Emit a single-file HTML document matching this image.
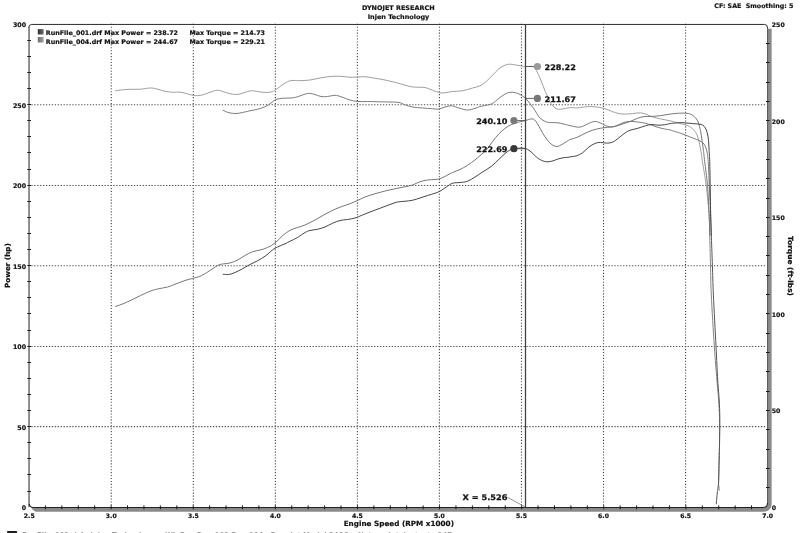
<!DOCTYPE html>
<html lang="en"><head><meta charset="utf-8"><title>Dynojet Research - Injen Technology</title>
<style>
html,body{margin:0;padding:0;background:#fff;}
body{width:800px;height:533px;overflow:hidden;}
svg{display:block;will-change:transform;}
text{font-family:"DejaVu Sans","Liberation Sans",sans-serif;font-weight:bold;fill:#111;}
.lb{stroke:#111;stroke-width:0.25;}
.sm{stroke:#111;stroke-width:0.18;}
.grid line{stroke:#444;stroke-width:1.1;stroke-dasharray:1.1 1.83;}
.grid line.h{stroke:#505050;stroke-width:1.05;stroke-dasharray:1.3 1.63;}
.tick line{stroke:#1a1a1a;stroke-width:1;}
.crv path{fill:none;stroke-linejoin:round;stroke-linecap:round;}
</style></head><body>
<svg width="800" height="533" viewBox="0 0 800 533">
<defs>
<linearGradient id="sw1" x1="0" x2="1" y1="0" y2="0"><stop offset="0" stop-color="#2e2e2e"/><stop offset="1" stop-color="#6e6e6e"/></linearGradient>
<linearGradient id="sw2" x1="0" x2="1" y1="0" y2="0"><stop offset="0" stop-color="#6a6a6a"/><stop offset="1" stop-color="#a4a4a4"/></linearGradient>
<clipPath id="plot"><rect x="30" y="24" width="738" height="483.5"/></clipPath>
</defs>
<rect width="800" height="533" fill="#fff"/>
<g class="grid">
<line x1="111.27" y1="23.8" x2="111.27" y2="506.8"/>
<line x1="193.31" y1="23.8" x2="193.31" y2="506.8"/>
<line x1="275.35" y1="23.8" x2="275.35" y2="506.8"/>
<line x1="357.39" y1="23.8" x2="357.39" y2="506.8"/>
<line x1="439.44" y1="23.8" x2="439.44" y2="506.8"/>
<line x1="521.48" y1="23.8" x2="521.48" y2="506.8"/>
<line x1="603.52" y1="23.8" x2="603.52" y2="506.8"/>
<line x1="685.56" y1="23.8" x2="685.56" y2="506.8"/>
<line class="h" x1="31.3" y1="426.60" x2="766.2" y2="426.60"/>
<line class="h" x1="31.3" y1="346.40" x2="766.2" y2="346.40"/>
<line class="h" x1="31.3" y1="265.70" x2="766.2" y2="265.70"/>
<line class="h" x1="31.3" y1="185.40" x2="766.2" y2="185.40"/>
<line class="h" x1="31.3" y1="104.70" x2="766.2" y2="104.70"/>
</g>
<path d="M29.05 507 L29.05 27" fill="none" stroke="#8a8a8a" stroke-width="1.9"/>
<path d="M31.5 509.85 L763 509.85 Q769.8 509.85 769.8 503 L769.8 28.8" fill="none" stroke="#8a8a8a" stroke-width="3.7"/>
<path d="M30.2 507.6 L35.6 511.9 L31 511.9 Z" fill="#fff"/>
<path d="M767.55 27.6 L767.55 503" fill="none" stroke="#555" stroke-width="1.0"/>
<path d="M28.7 27.6 Q28.8 24.45 31.8 24.45 L764.6 24.45 Q767.55 24.45 767.55 28" fill="none" stroke="#2e2e2e" stroke-width="1.0"/>
<path d="M767.55 503 Q767.55 507.5 763 507.5 L33.5 507.5 Q29.6 507.5 29.2 504" fill="none" stroke="#222" stroke-width="1.15"/>
<g class="tick">
<line x1="27.3" y1="491.50" x2="31" y2="491.50"/>
<line x1="27.3" y1="474.50" x2="31" y2="474.50"/>
<line x1="27.3" y1="458.50" x2="31" y2="458.50"/>
<line x1="27.3" y1="442.50" x2="31" y2="442.50"/>
<line x1="27.3" y1="426.50" x2="31" y2="426.50"/>
<line x1="27.3" y1="410.50" x2="31" y2="410.50"/>
<line x1="27.3" y1="394.50" x2="31" y2="394.50"/>
<line x1="27.3" y1="378.50" x2="31" y2="378.50"/>
<line x1="27.3" y1="362.50" x2="31" y2="362.50"/>
<line x1="27.3" y1="346.50" x2="31" y2="346.50"/>
<line x1="27.3" y1="330.50" x2="31" y2="330.50"/>
<line x1="27.3" y1="313.50" x2="31" y2="313.50"/>
<line x1="27.3" y1="297.50" x2="31" y2="297.50"/>
<line x1="27.3" y1="281.50" x2="31" y2="281.50"/>
<line x1="27.3" y1="265.50" x2="31" y2="265.50"/>
<line x1="27.3" y1="249.50" x2="31" y2="249.50"/>
<line x1="27.3" y1="233.50" x2="31" y2="233.50"/>
<line x1="27.3" y1="217.50" x2="31" y2="217.50"/>
<line x1="27.3" y1="201.50" x2="31" y2="201.50"/>
<line x1="27.3" y1="185.50" x2="31" y2="185.50"/>
<line x1="27.3" y1="169.50" x2="31" y2="169.50"/>
<line x1="27.3" y1="152.50" x2="31" y2="152.50"/>
<line x1="27.3" y1="136.50" x2="31" y2="136.50"/>
<line x1="27.3" y1="120.50" x2="31" y2="120.50"/>
<line x1="27.3" y1="104.50" x2="31" y2="104.50"/>
<line x1="27.3" y1="88.50" x2="31" y2="88.50"/>
<line x1="27.3" y1="72.50" x2="31" y2="72.50"/>
<line x1="27.3" y1="56.50" x2="31" y2="56.50"/>
<line x1="27.3" y1="40.50" x2="31" y2="40.50"/>
<line x1="766" y1="487.50" x2="769.6" y2="487.50"/>
<line x1="766" y1="468.50" x2="769.6" y2="468.50"/>
<line x1="766" y1="449.50" x2="769.6" y2="449.50"/>
<line x1="766" y1="429.50" x2="769.6" y2="429.50"/>
<line x1="766" y1="410.50" x2="769.6" y2="410.50"/>
<line x1="766" y1="391.50" x2="769.6" y2="391.50"/>
<line x1="766" y1="371.50" x2="769.6" y2="371.50"/>
<line x1="766" y1="352.50" x2="769.6" y2="352.50"/>
<line x1="766" y1="333.50" x2="769.6" y2="333.50"/>
<line x1="766" y1="313.50" x2="769.6" y2="313.50"/>
<line x1="766" y1="294.50" x2="769.6" y2="294.50"/>
<line x1="766" y1="275.50" x2="769.6" y2="275.50"/>
<line x1="766" y1="255.50" x2="769.6" y2="255.50"/>
<line x1="766" y1="236.50" x2="769.6" y2="236.50"/>
<line x1="766" y1="217.50" x2="769.6" y2="217.50"/>
<line x1="766" y1="198.50" x2="769.6" y2="198.50"/>
<line x1="766" y1="178.50" x2="769.6" y2="178.50"/>
<line x1="766" y1="159.50" x2="769.6" y2="159.50"/>
<line x1="766" y1="140.50" x2="769.6" y2="140.50"/>
<line x1="766" y1="120.50" x2="769.6" y2="120.50"/>
<line x1="766" y1="101.50" x2="769.6" y2="101.50"/>
<line x1="766" y1="82.50" x2="769.6" y2="82.50"/>
<line x1="766" y1="62.50" x2="769.6" y2="62.50"/>
<line x1="766" y1="43.50" x2="769.6" y2="43.50"/>
<line x1="45.42" y1="505.4" x2="45.42" y2="509.3"/>
<line x1="61.84" y1="505.4" x2="61.84" y2="509.3"/>
<line x1="78.27" y1="505.4" x2="78.27" y2="509.3"/>
<line x1="94.69" y1="505.4" x2="94.69" y2="509.3"/>
<line x1="111.11" y1="505.4" x2="111.11" y2="509.3"/>
<line x1="127.53" y1="505.4" x2="127.53" y2="509.3"/>
<line x1="143.95" y1="505.4" x2="143.95" y2="509.3"/>
<line x1="160.37" y1="505.4" x2="160.37" y2="509.3"/>
<line x1="176.80" y1="505.4" x2="176.80" y2="509.3"/>
<line x1="193.22" y1="505.4" x2="193.22" y2="509.3"/>
<line x1="209.64" y1="505.4" x2="209.64" y2="509.3"/>
<line x1="226.06" y1="505.4" x2="226.06" y2="509.3"/>
<line x1="242.48" y1="505.4" x2="242.48" y2="509.3"/>
<line x1="258.90" y1="505.4" x2="258.90" y2="509.3"/>
<line x1="275.33" y1="505.4" x2="275.33" y2="509.3"/>
<line x1="291.75" y1="505.4" x2="291.75" y2="509.3"/>
<line x1="308.17" y1="505.4" x2="308.17" y2="509.3"/>
<line x1="324.59" y1="505.4" x2="324.59" y2="509.3"/>
<line x1="341.01" y1="505.4" x2="341.01" y2="509.3"/>
<line x1="357.43" y1="505.4" x2="357.43" y2="509.3"/>
<line x1="373.86" y1="505.4" x2="373.86" y2="509.3"/>
<line x1="390.28" y1="505.4" x2="390.28" y2="509.3"/>
<line x1="406.70" y1="505.4" x2="406.70" y2="509.3"/>
<line x1="423.12" y1="505.4" x2="423.12" y2="509.3"/>
<line x1="439.54" y1="505.4" x2="439.54" y2="509.3"/>
<line x1="455.96" y1="505.4" x2="455.96" y2="509.3"/>
<line x1="472.39" y1="505.4" x2="472.39" y2="509.3"/>
<line x1="488.81" y1="505.4" x2="488.81" y2="509.3"/>
<line x1="505.23" y1="505.4" x2="505.23" y2="509.3"/>
<line x1="521.65" y1="505.4" x2="521.65" y2="509.3"/>
<line x1="538.07" y1="505.4" x2="538.07" y2="509.3"/>
<line x1="554.49" y1="505.4" x2="554.49" y2="509.3"/>
<line x1="570.92" y1="505.4" x2="570.92" y2="509.3"/>
<line x1="587.34" y1="505.4" x2="587.34" y2="509.3"/>
<line x1="603.76" y1="505.4" x2="603.76" y2="509.3"/>
<line x1="620.18" y1="505.4" x2="620.18" y2="509.3"/>
<line x1="636.60" y1="505.4" x2="636.60" y2="509.3"/>
<line x1="653.02" y1="505.4" x2="653.02" y2="509.3"/>
<line x1="669.45" y1="505.4" x2="669.45" y2="509.3"/>
<line x1="685.87" y1="505.4" x2="685.87" y2="509.3"/>
<line x1="702.29" y1="505.4" x2="702.29" y2="509.3"/>
<line x1="718.71" y1="505.4" x2="718.71" y2="509.3"/>
<line x1="735.13" y1="505.4" x2="735.13" y2="509.3"/>
<line x1="751.55" y1="505.4" x2="751.55" y2="509.3"/>
</g>
<g class="crv">
<path d="M115.50 90.75C116.58 90.61 119.58 90.15 122.00 89.90C124.42 89.65 127.00 89.36 130.00 89.25C133.00 89.14 136.67 89.46 140.00 89.25C143.33 89.04 147.33 88.08 150.00 88.00C152.67 87.92 153.50 88.21 156.00 88.75C158.50 89.29 162.25 90.67 165.00 91.25C167.75 91.83 169.83 92.08 172.50 92.25C175.17 92.42 177.58 91.75 181.00 92.25C184.42 92.75 189.67 94.75 193.00 95.25C196.33 95.75 198.17 95.75 201.00 95.25C203.83 94.75 207.25 93.08 210.00 92.25C212.75 91.42 215.00 90.25 217.50 90.25C220.00 90.25 222.50 91.58 225.00 92.25C227.50 92.92 230.17 93.92 232.50 94.25C234.83 94.58 236.75 94.62 239.00 94.25C241.25 93.88 243.75 92.58 246.00 92.00C248.25 91.42 249.75 90.71 252.50 90.75C255.25 90.79 259.42 92.04 262.50 92.25C265.58 92.46 268.75 92.46 271.00 92.00C273.25 91.54 273.83 90.88 276.00 89.50C278.17 88.12 281.50 85.23 284.00 83.75C286.50 82.27 288.33 81.11 291.00 80.60C293.67 80.09 296.83 80.80 300.00 80.70C303.17 80.60 306.67 80.45 310.00 80.00C313.33 79.55 316.67 78.58 320.00 78.00C323.33 77.42 326.67 76.79 330.00 76.50C333.33 76.21 336.67 76.12 340.00 76.25C343.33 76.38 347.08 77.12 350.00 77.25C352.92 77.38 355.00 77.08 357.50 77.00C360.00 76.92 362.08 76.54 365.00 76.75C367.92 76.96 371.67 77.71 375.00 78.25C378.33 78.79 381.25 79.21 385.00 80.00C388.75 80.79 393.33 81.92 397.50 83.00C401.67 84.08 406.67 85.79 410.00 86.50C413.33 87.21 415.00 87.08 417.50 87.25C420.00 87.42 422.50 87.00 425.00 87.50C427.50 88.00 430.00 89.38 432.50 90.25C435.00 91.12 437.92 92.33 440.00 92.75C442.08 93.17 442.92 92.96 445.00 92.75C447.08 92.54 449.58 91.83 452.50 91.50C455.42 91.17 459.17 91.33 462.50 90.75C465.83 90.17 469.58 88.83 472.50 88.00C475.42 87.17 477.70 86.90 480.00 85.80C482.30 84.70 484.20 83.18 486.30 81.40C488.40 79.62 490.52 77.20 492.60 75.10C494.68 73.00 496.72 70.47 498.80 68.80C500.88 67.13 503.20 65.87 505.10 65.10C507.00 64.33 508.32 64.20 510.20 64.20C512.08 64.20 514.52 64.80 516.40 65.10C518.28 65.40 519.97 65.77 521.50 66.00C523.03 66.23 523.72 66.42 525.60 66.50C527.48 66.58 531.18 66.12 532.80 66.50C534.42 66.88 534.47 67.68 535.30 68.80C536.13 69.92 536.97 71.52 537.80 73.20C538.63 74.88 539.47 76.90 540.30 78.90C541.13 80.90 541.97 83.10 542.80 85.20C543.63 87.30 544.35 89.30 545.30 91.50C546.25 93.70 547.55 96.42 548.50 98.40C549.45 100.38 550.17 102.05 551.00 103.40C551.83 104.75 552.57 105.60 553.50 106.50C554.43 107.40 555.45 108.33 556.60 108.80C557.75 109.27 558.93 109.37 560.40 109.30C561.87 109.23 563.72 108.68 565.40 108.40C567.08 108.12 568.48 107.68 570.50 107.60C572.52 107.52 574.65 108.07 577.50 107.90C580.35 107.73 584.67 106.77 587.60 106.60C590.53 106.43 592.45 106.63 595.10 106.90C597.75 107.17 600.77 107.47 603.50 108.20C606.23 108.93 608.92 110.40 611.50 111.30C614.08 112.20 616.70 113.13 619.00 113.60C621.30 114.07 623.00 114.10 625.30 114.10C627.60 114.10 630.28 113.82 632.80 113.60C635.32 113.38 638.10 112.65 640.40 112.80C642.70 112.95 644.52 113.80 646.60 114.50C648.68 115.20 650.58 116.27 652.90 117.00C655.22 117.73 657.65 118.27 660.50 118.90C663.35 119.53 667.13 120.13 670.00 120.80C672.87 121.47 675.10 122.22 677.70 122.90C680.30 123.58 683.50 124.22 685.60 124.90C687.70 125.58 688.90 126.12 690.30 127.00C691.70 127.88 692.85 128.83 694.00 130.20C695.15 131.57 696.37 133.32 697.20 135.20C698.03 137.08 698.48 139.40 699.00 141.50C699.52 143.60 699.87 145.50 700.30 147.80C700.73 150.10 701.25 153.00 701.60 155.30C701.95 157.60 701.63 156.58 702.40 161.60C703.17 166.62 705.07 176.23 706.20 185.40C707.33 194.57 708.62 208.33 709.20 216.60C709.78 224.87 709.62 231.93 709.70 235.00" stroke="#9a9a9a" stroke-width="0.95"/>
<path d="M223.00 110.25C224.00 110.67 226.83 112.21 229.00 112.75C231.17 113.29 233.75 113.54 236.00 113.50C238.25 113.46 240.17 112.96 242.50 112.50C244.83 112.04 247.50 111.29 250.00 110.75C252.50 110.21 255.00 109.92 257.50 109.25C260.00 108.58 262.75 107.79 265.00 106.75C267.25 105.71 269.17 104.21 271.00 103.00C272.83 101.79 274.08 100.29 276.00 99.50C277.92 98.71 280.00 98.50 282.50 98.25C285.00 98.00 288.50 98.25 291.00 98.00C293.50 97.75 294.75 97.50 297.50 96.75C300.25 96.00 304.75 93.92 307.50 93.50C310.25 93.08 311.75 93.75 314.00 94.25C316.25 94.75 318.75 96.12 321.00 96.50C323.25 96.88 325.17 96.71 327.50 96.50C329.83 96.29 332.75 95.21 335.00 95.25C337.25 95.29 338.50 95.96 341.00 96.75C343.50 97.54 347.25 99.21 350.00 100.00C352.75 100.79 354.58 101.25 357.50 101.50C360.42 101.75 364.17 101.46 367.50 101.50C370.83 101.54 373.75 101.67 377.50 101.75C381.25 101.83 386.42 101.88 390.00 102.00C393.58 102.12 396.50 102.04 399.00 102.50C401.50 102.96 402.75 104.00 405.00 104.75C407.25 105.50 409.58 106.46 412.50 107.00C415.42 107.54 419.17 107.71 422.50 108.00C425.83 108.29 429.75 108.58 432.50 108.75C435.25 108.92 436.92 109.29 439.00 109.00C441.08 108.71 443.00 107.54 445.00 107.00C447.00 106.46 448.92 105.67 451.00 105.75C453.08 105.83 455.17 106.83 457.50 107.50C459.83 108.17 462.92 109.38 465.00 109.75C467.08 110.12 467.92 110.12 470.00 109.75C472.08 109.38 475.83 108.04 477.50 107.50C479.17 106.96 478.53 106.87 480.00 106.50C481.47 106.13 484.20 105.82 486.30 105.30C488.40 104.78 490.52 104.55 492.60 103.40C494.68 102.25 496.72 99.97 498.80 98.40C500.88 96.83 503.20 95.02 505.10 94.00C507.00 92.98 508.52 92.52 510.20 92.30C511.88 92.08 513.53 92.32 515.20 92.70C516.87 93.08 518.47 93.65 520.20 94.60C521.93 95.55 523.92 96.83 525.60 98.40C527.28 99.97 528.68 101.92 530.30 104.00C531.92 106.08 533.85 108.73 535.30 110.90C536.75 113.07 537.75 115.47 539.00 117.00C540.25 118.53 541.53 119.27 542.80 120.10C544.07 120.93 545.33 121.58 546.60 122.00C547.87 122.42 548.93 122.50 550.40 122.60C551.87 122.70 553.73 122.50 555.40 122.60C557.07 122.70 558.73 122.88 560.40 123.20C562.07 123.52 563.80 124.10 565.40 124.50C567.00 124.90 567.98 125.15 570.00 125.60C572.02 126.05 575.40 127.07 577.50 127.20C579.60 127.33 580.72 127.05 582.60 126.40C584.48 125.75 586.72 124.13 588.80 123.30C590.88 122.47 593.20 121.47 595.10 121.40C597.00 121.33 598.52 122.23 600.20 122.90C601.88 123.57 603.32 124.72 605.20 125.40C607.08 126.08 609.42 127.03 611.50 127.00C613.58 126.97 615.62 125.97 617.70 125.20C619.78 124.43 621.90 123.03 624.00 122.40C626.10 121.77 628.00 121.47 630.30 121.40C632.60 121.33 635.28 121.68 637.80 122.00C640.32 122.32 643.08 122.77 645.40 123.30C647.72 123.83 649.62 124.52 651.70 125.20C653.78 125.88 655.82 126.78 657.90 127.40C659.98 128.02 662.18 128.48 664.20 128.90C666.22 129.32 668.58 129.58 670.00 129.90C671.42 130.22 671.00 130.27 672.70 130.80C674.40 131.33 678.05 132.37 680.20 133.10C682.35 133.83 683.50 134.38 685.60 135.20C687.70 136.02 690.57 137.12 692.80 138.00C695.03 138.88 697.33 139.72 699.00 140.50C700.67 141.28 701.75 141.70 702.80 142.70C703.85 143.70 704.57 144.82 705.30 146.50C706.03 148.18 706.72 150.28 707.20 152.80C707.68 155.32 707.85 156.17 708.20 161.60C708.55 167.03 708.88 176.23 709.30 185.40C709.72 194.57 710.37 208.33 710.70 216.60C711.03 224.87 711.20 231.93 711.30 235.00" stroke="#757575" stroke-width="0.95"/>
<path d="M115.50 306.50C117.08 305.92 121.33 304.58 125.00 303.00C128.67 301.42 133.33 298.96 137.50 297.00C141.67 295.04 146.67 292.58 150.00 291.25C153.33 289.92 154.58 289.71 157.50 289.00C160.42 288.29 164.58 287.79 167.50 287.00C170.42 286.21 172.08 285.33 175.00 284.25C177.92 283.17 181.96 281.50 185.00 280.50C188.04 279.50 190.54 279.04 193.25 278.25C195.96 277.46 198.46 277.04 201.25 275.75C204.04 274.46 207.29 272.21 210.00 270.50C212.71 268.79 215.42 266.58 217.50 265.50C219.58 264.42 220.42 264.42 222.50 264.00C224.58 263.58 227.50 263.67 230.00 263.00C232.50 262.33 235.00 261.25 237.50 260.00C240.00 258.75 242.50 256.88 245.00 255.50C247.50 254.12 250.00 252.67 252.50 251.75C255.00 250.83 257.50 250.71 260.00 250.00C262.50 249.29 265.00 248.67 267.50 247.50C270.00 246.33 272.50 244.96 275.00 243.00C277.50 241.04 280.00 237.87 282.50 235.75C285.00 233.63 287.50 231.68 290.00 230.30C292.50 228.93 295.00 228.38 297.50 227.50C300.00 226.62 302.08 226.25 305.00 225.00C307.92 223.75 311.67 221.79 315.00 220.00C318.33 218.21 321.67 216.04 325.00 214.25C328.33 212.46 332.08 210.58 335.00 209.25C337.92 207.92 340.00 207.17 342.50 206.25C345.00 205.33 347.50 204.71 350.00 203.75C352.50 202.79 355.00 201.62 357.50 200.50C360.00 199.38 362.08 198.12 365.00 197.00C367.92 195.88 371.67 194.75 375.00 193.75C378.33 192.75 381.67 191.83 385.00 191.00C388.33 190.17 391.67 189.46 395.00 188.75C398.33 188.04 402.08 187.38 405.00 186.75C407.92 186.12 410.00 185.83 412.50 185.00C415.00 184.17 417.50 182.58 420.00 181.75C422.50 180.92 425.00 180.38 427.50 180.00C430.00 179.62 432.92 179.71 435.00 179.50C437.08 179.29 438.12 179.38 440.00 178.75C441.88 178.12 444.17 176.79 446.25 175.75C448.33 174.71 450.21 173.54 452.50 172.50C454.79 171.46 457.50 170.70 460.00 169.50C462.50 168.30 465.00 166.90 467.50 165.30C470.00 163.70 472.92 161.50 475.00 159.90C477.08 158.30 478.12 157.35 480.00 155.70C481.88 154.05 484.20 152.37 486.30 150.00C488.40 147.63 490.52 144.18 492.60 141.50C494.68 138.82 496.72 136.10 498.80 133.90C500.88 131.70 503.00 129.87 505.10 128.30C507.20 126.73 509.30 125.48 511.40 124.50C513.50 123.52 515.33 123.07 517.70 122.40C520.07 121.73 523.50 121.05 525.60 120.50C527.70 119.95 529.00 119.33 530.30 119.10C531.60 118.87 532.47 118.72 533.40 119.10C534.33 119.48 534.97 120.18 535.90 121.40C536.83 122.62 537.85 124.42 539.00 126.40C540.15 128.38 541.53 131.20 542.80 133.30C544.07 135.40 545.33 137.32 546.60 139.00C547.87 140.68 549.15 142.25 550.40 143.40C551.65 144.55 552.95 145.38 554.10 145.90C555.25 146.42 556.03 146.72 557.30 146.50C558.57 146.28 559.93 145.55 561.70 144.60C563.47 143.65 566.52 141.63 567.90 140.80C569.28 139.97 568.40 140.22 570.00 139.60C571.60 138.98 574.98 138.15 577.50 137.10C580.02 136.05 582.58 134.45 585.10 133.30C587.62 132.15 590.08 131.03 592.60 130.20C595.12 129.37 597.68 128.78 600.20 128.30C602.72 127.82 605.20 127.62 607.70 127.30C610.20 126.98 612.68 126.97 615.20 126.40C617.72 125.83 620.28 124.73 622.80 123.90C625.32 123.07 627.80 122.35 630.30 121.40C632.80 120.45 635.50 119.00 637.80 118.20C640.10 117.40 641.78 116.90 644.10 116.60C646.42 116.30 648.97 116.55 651.70 116.40C654.43 116.25 657.45 116.08 660.50 115.70C663.55 115.32 667.13 114.50 670.00 114.10C672.87 113.70 675.10 113.45 677.70 113.30C680.30 113.15 683.50 113.07 685.60 113.20C687.70 113.33 688.90 113.57 690.30 114.10C691.70 114.63 692.85 115.40 694.00 116.40C695.15 117.40 696.37 118.75 697.20 120.10C698.03 121.45 698.38 122.40 699.00 124.50C699.62 126.60 700.37 129.87 700.90 132.70C701.43 135.53 701.78 138.57 702.20 141.50C702.62 144.43 702.98 146.95 703.40 150.30C703.82 153.65 704.02 155.75 704.70 161.60C705.38 167.45 706.75 176.23 707.50 185.40C708.25 194.57 708.83 208.33 709.20 216.60C709.57 224.87 709.62 231.93 709.70 235.00" stroke="#707070" stroke-width="0.95"/>
<path d="M223.25 274.25C224.17 274.29 226.79 274.79 228.75 274.50C230.71 274.21 232.71 273.46 235.00 272.50C237.29 271.54 240.00 270.08 242.50 268.75C245.00 267.42 247.50 265.83 250.00 264.50C252.50 263.17 255.00 262.12 257.50 260.75C260.00 259.38 262.50 258.04 265.00 256.25C267.50 254.46 270.42 251.54 272.50 250.00C274.58 248.46 275.42 248.04 277.50 247.00C279.58 245.96 282.92 244.71 285.00 243.75C287.08 242.79 287.92 242.29 290.00 241.25C292.08 240.21 295.00 238.96 297.50 237.50C300.00 236.04 302.92 233.67 305.00 232.50C307.08 231.33 307.92 231.04 310.00 230.50C312.08 229.96 315.00 229.83 317.50 229.25C320.00 228.67 322.50 228.00 325.00 227.00C327.50 226.00 330.00 224.33 332.50 223.25C335.00 222.17 337.50 221.12 340.00 220.50C342.50 219.88 345.00 219.92 347.50 219.50C350.00 219.08 352.50 218.75 355.00 218.00C357.50 217.25 360.00 216.00 362.50 215.00C365.00 214.00 367.08 213.12 370.00 212.00C372.92 210.88 376.67 209.50 380.00 208.25C383.33 207.00 387.08 205.54 390.00 204.50C392.92 203.46 395.00 202.54 397.50 202.00C400.00 201.46 402.50 201.54 405.00 201.25C407.50 200.96 410.00 200.79 412.50 200.25C415.00 199.71 417.50 198.79 420.00 198.00C422.50 197.21 425.00 196.29 427.50 195.50C430.00 194.71 432.92 193.96 435.00 193.25C437.08 192.54 438.12 192.29 440.00 191.25C441.88 190.21 444.17 188.33 446.25 187.00C448.33 185.67 450.21 184.00 452.50 183.25C454.79 182.50 457.50 182.83 460.00 182.50C462.50 182.17 465.00 182.17 467.50 181.25C470.00 180.33 472.50 178.54 475.00 177.00C477.50 175.46 479.78 173.77 482.50 172.00C485.22 170.23 488.58 168.50 491.30 166.40C494.02 164.30 496.50 161.55 498.80 159.40C501.10 157.25 503.20 155.10 505.10 153.50C507.00 151.90 508.73 150.57 510.20 149.80C511.67 149.03 512.23 149.18 513.90 148.90C515.57 148.62 518.25 148.15 520.20 148.10C522.15 148.05 524.13 148.23 525.60 148.60C527.07 148.97 527.80 149.50 529.00 150.30C530.20 151.10 531.55 152.25 532.80 153.40C534.05 154.55 535.25 156.15 536.50 157.20C537.75 158.25 539.03 159.02 540.30 159.70C541.57 160.38 542.85 160.95 544.10 161.30C545.35 161.65 546.33 161.87 547.80 161.80C549.27 161.73 551.22 161.37 552.90 160.90C554.58 160.43 556.23 159.52 557.90 159.00C559.57 158.48 561.23 158.08 562.90 157.80C564.57 157.52 566.55 157.48 567.90 157.30C569.25 157.12 569.60 156.93 571.00 156.70C572.40 156.47 574.37 156.55 576.30 155.90C578.23 155.25 580.52 154.27 582.60 152.80C584.68 151.33 586.72 148.67 588.80 147.10C590.88 145.53 593.20 144.18 595.10 143.40C597.00 142.62 598.32 142.45 600.20 142.40C602.08 142.35 604.32 143.15 606.40 143.10C608.48 143.05 610.60 143.00 612.70 142.10C614.80 141.20 616.90 139.27 619.00 137.70C621.10 136.13 623.42 133.95 625.30 132.70C627.18 131.45 628.22 130.93 630.30 130.20C632.38 129.47 635.28 129.03 637.80 128.30C640.32 127.57 643.08 126.43 645.40 125.80C647.72 125.17 649.62 124.60 651.70 124.50C653.78 124.40 655.82 125.15 657.90 125.20C659.98 125.25 662.18 125.07 664.20 124.80C666.22 124.53 668.58 123.85 670.00 123.60C671.42 123.35 671.00 123.47 672.70 123.30C674.40 123.13 678.05 122.67 680.20 122.60C682.35 122.53 683.50 122.73 685.60 122.90C687.70 123.07 690.57 123.40 692.80 123.60C695.03 123.80 697.33 123.83 699.00 124.10C700.67 124.37 701.75 124.57 702.80 125.20C703.85 125.83 704.57 126.65 705.30 127.90C706.03 129.15 706.67 130.65 707.20 132.70C707.73 134.75 708.18 137.27 708.50 140.20C708.82 143.13 708.90 146.73 709.10 150.30C709.30 153.87 709.52 155.75 709.70 161.60C709.88 167.45 710.03 176.23 710.20 185.40C710.37 194.57 710.52 208.33 710.70 216.60C710.88 224.87 711.20 231.93 711.30 235.00" stroke="#3c3c3c" stroke-width="0.95"/>
<path d="M709.70 235.00C709.83 240.07 710.23 255.40 710.50 265.40C710.77 275.40 710.67 281.57 711.30 295.00C711.93 308.43 713.37 331.83 714.30 346.00C715.23 360.17 716.18 371.00 716.90 380.00C717.62 389.00 718.17 393.73 718.60 400.00C719.03 406.27 719.35 410.43 719.50 417.60C719.65 424.77 719.57 435.93 719.50 443.00C719.43 450.07 719.25 453.42 719.10 460.00C718.95 466.58 718.63 478.08 718.60 482.50C718.57 486.92 718.78 485.20 718.90 486.50C719.02 487.80 719.23 489.67 719.30 490.30" stroke="#858585" stroke-width="1.0"/>
<path d="M711.30 235.00C711.48 240.07 712.05 255.40 712.40 265.40C712.75 275.40 712.80 281.57 713.40 295.00C714.00 308.43 715.28 331.83 716.00 346.00C716.72 360.17 717.17 371.00 717.70 380.00C718.23 389.00 718.85 393.73 719.20 400.00C719.55 406.27 719.74 410.43 719.80 417.60C719.86 424.77 719.66 435.93 719.55 443.00C719.44 450.07 719.32 453.42 719.15 460.00C718.98 466.58 718.84 477.25 718.55 482.50C718.26 487.75 717.71 488.75 717.40 491.50C717.09 494.25 716.88 496.93 716.70 499.00C716.52 501.07 716.37 503.08 716.30 503.90" stroke="#555555" stroke-width="1.0"/>
</g>
<line x1="525.5" y1="24.5" x2="525.5" y2="507" stroke="#3e3e3e" stroke-width="1.25"/>
<line x1="507.3" y1="497.2" x2="525.2" y2="507" stroke="#6a6a6a" stroke-width="0.7"/>
<line x1="525.5" y1="66.50" x2="537.4" y2="66.50" stroke="#555" stroke-width="0.9"/>
<circle cx="537.4" cy="66.50" r="3.6" fill="#9a9a9a"/>
<line x1="525.5" y1="98.40" x2="537.4" y2="98.40" stroke="#555" stroke-width="0.9"/>
<circle cx="537.4" cy="98.40" r="3.6" fill="#777777"/>
<line x1="525.5" y1="120.60" x2="513.9" y2="120.60" stroke="#555" stroke-width="0.9"/>
<circle cx="513.9" cy="120.60" r="3.6" fill="#7a7a7a"/>
<line x1="525.5" y1="148.70" x2="513.9" y2="148.70" stroke="#555" stroke-width="0.9"/>
<circle cx="513.9" cy="148.70" r="3.6" fill="#383838"/>
<text class="lb" x="544.5" y="69.70" font-size="7.7" textLength="31.3" lengthAdjust="spacingAndGlyphs">228.22</text>
<text class="lb" x="544.5" y="101.60" font-size="7.7" textLength="31.3" lengthAdjust="spacingAndGlyphs">211.67</text>
<text class="lb" x="476.2" y="123.80" font-size="7.7" textLength="31.3" lengthAdjust="spacingAndGlyphs">240.10</text>
<text class="lb" x="476.2" y="151.90" font-size="7.7" textLength="31.3" lengthAdjust="spacingAndGlyphs">222.69</text>
<text class="lb" x="462.5" y="500.1" font-size="7.7" textLength="45" lengthAdjust="spacingAndGlyphs">X = 5.526</text>
<text class="sm" x="398.3" y="9.8" font-size="6.3" text-anchor="middle" textLength="72.5" lengthAdjust="spacingAndGlyphs">DYNOJET RESEARCH</text>
<text class="sm" x="398.5" y="19.3" font-size="6.3" text-anchor="middle" textLength="61.6" lengthAdjust="spacingAndGlyphs">Injen Technology</text>
<text class="sm" x="793.3" y="7.8" font-size="6.3" text-anchor="end" textLength="79" lengthAdjust="spacingAndGlyphs" xml:space="preserve">CF: SAE  Smoothing: 5</text>
<rect x="37.8" y="29.1" width="5.8" height="5.4" fill="url(#sw1)"/>
<rect x="37.8" y="37.0" width="5.8" height="5.5" fill="url(#sw2)"/>
<text class="sm" x="45.8" y="35.15" font-size="6.25" textLength="132.2" lengthAdjust="spacingAndGlyphs">RunFile_001.drf Max Power = 238.72</text>
<text class="sm" x="189.4" y="35.15" font-size="6.25" textLength="75.6" lengthAdjust="spacingAndGlyphs">Max Torque = 214.73</text>
<text class="sm" x="45.8" y="43.55" font-size="6.25" textLength="132.2" lengthAdjust="spacingAndGlyphs">RunFile_004.drf Max Power = 244.67</text>
<text class="sm" x="189.4" y="43.55" font-size="6.25" textLength="75.6" lengthAdjust="spacingAndGlyphs">Max Torque = 229.21</text>
<text class="sm" x="26.1" y="510.00" font-size="6.3" text-anchor="end">0</text>
<text class="sm" x="26.1" y="429.52" font-size="6.3" text-anchor="end">50</text>
<text class="sm" x="26.1" y="349.03" font-size="6.3" text-anchor="end">100</text>
<text class="sm" x="26.1" y="268.55" font-size="6.3" text-anchor="end">150</text>
<text class="sm" x="26.1" y="188.07" font-size="6.3" text-anchor="end">200</text>
<text class="sm" x="26.1" y="107.58" font-size="6.3" text-anchor="end">250</text>
<text class="sm" x="26.1" y="27.10" font-size="6.3" text-anchor="end">300</text>
<text class="sm" x="771.8" y="509.90" font-size="6.2">0</text>
<text class="sm" x="771.8" y="413.32" font-size="6.2">50</text>
<text class="sm" x="771.8" y="316.74" font-size="6.2">100</text>
<text class="sm" x="771.8" y="220.16" font-size="6.2">150</text>
<text class="sm" x="771.8" y="123.58" font-size="6.2">200</text>
<text class="sm" x="771.8" y="27.00" font-size="6.2">250</text>
<text class="sm" x="29.23" y="517.9" font-size="6.1" text-anchor="middle">2.5</text>
<text class="sm" x="111.27" y="517.9" font-size="6.1" text-anchor="middle">3.0</text>
<text class="sm" x="193.31" y="517.9" font-size="6.1" text-anchor="middle">3.5</text>
<text class="sm" x="275.35" y="517.9" font-size="6.1" text-anchor="middle">4.0</text>
<text class="sm" x="357.39" y="517.9" font-size="6.1" text-anchor="middle">4.5</text>
<text class="sm" x="439.44" y="517.9" font-size="6.1" text-anchor="middle">5.0</text>
<text class="sm" x="521.48" y="517.9" font-size="6.1" text-anchor="middle">5.5</text>
<text class="sm" x="603.52" y="517.9" font-size="6.1" text-anchor="middle">6.0</text>
<text class="sm" x="685.56" y="517.9" font-size="6.1" text-anchor="middle">6.5</text>
<text class="sm" x="767.60" y="517.9" font-size="6.1" text-anchor="middle">7.0</text>
<text class="sm" x="398.8" y="525.9" font-size="7.2" text-anchor="middle" textLength="110.3" lengthAdjust="spacingAndGlyphs">Engine Speed (RPM x1000)</text>
<text class="sm" transform="translate(9.7 265.6) rotate(-90)" font-size="7.1" text-anchor="middle" textLength="44.8" lengthAdjust="spacingAndGlyphs">Power (hp)</text>
<text class="sm" transform="translate(787.6 266) rotate(90)" font-size="7.1" text-anchor="middle" textLength="60" lengthAdjust="spacingAndGlyphs">Torque (ft-lbs)</text>
<rect x="7.2" y="531.0" width="9.7" height="4" fill="#1e1e1e"/>
<text x="22" y="538.7" font-size="8" style="fill:#9a9a9a" textLength="430" lengthAdjust="spacingAndGlyphs" xml:space="preserve">RunFile_001.drf   Injen Technology    WinPep Run 001 Run 004   Dynojet Model 248C    Notes:  Intake test   147</text>
</svg>
</body></html>
